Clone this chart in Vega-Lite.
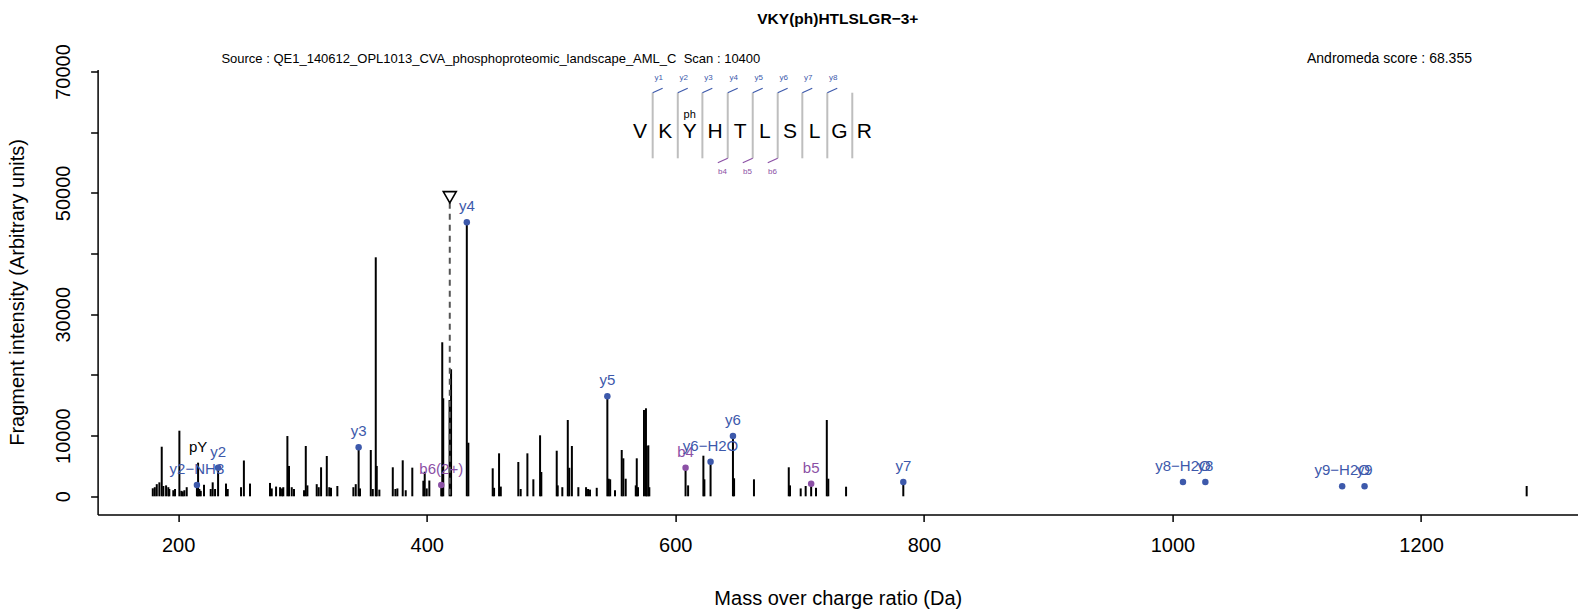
{
  "$schema": "https://vega.github.io/schema/vega-lite/v6.json",
  "autosize": {"type": "none"},
  "width": 1480.4,
  "height": 444.9,
  "padding": {"left": 97.6, "top": 69.5, "right": 0, "bottom": 94.6},
  "background": "white",
  "config": {"view": {"stroke": null}, "font": "Liberation Sans", "axis": {"grid": false}},
  "title": {"text": "VKY(ph)HTLSLGR−3+", "fontSize": 15.5, "fontWeight": "bold", "font": "Liberation Sans", "anchor": "middle", "offset": 16, "color": "black"},
  "datasets": {
    "peaks": [
      {"mz":179.6,"intensity":1320},{"mz":181.2,"intensity":1500},{"mz":182.8,"intensity":2000},{"mz":184.9,"intensity":2300},{"mz":186.8,"intensity":8170},{"mz":188.1,"intensity":1700},{"mz":190.3,"intensity":1800},{"mz":192.1,"intensity":1500},{"mz":192.9,"intensity":1200},{"mz":196.1,"intensity":1000},{"mz":197.5,"intensity":1200},{"mz":201.0,"intensity":10810},{"mz":202.6,"intensity":900},{"mz":203.7,"intensity":800},{"mz":205.0,"intensity":1000},{"mz":206.9,"intensity":1500},{"mz":215.11,"intensity":1860},{"mz":216.04,"intensity":5540},{"mz":217.1,"intensity":1200},{"mz":218.2,"intensity":900},{"mz":220.8,"intensity":1900},{"mz":226.2,"intensity":1200},{"mz":227.8,"intensity":2300},{"mz":229.7,"intensity":1200},{"mz":232.14,"intensity":4720},{"mz":238.5,"intensity":2100},{"mz":239.9,"intensity":1200},{"mz":250.6,"intensity":1500},{"mz":252.9,"intensity":5900},{"mz":257.8,"intensity":2100},{"mz":273.9,"intensity":2200},{"mz":275.3,"intensity":1300},{"mz":278.8,"intensity":1600},{"mz":282.0,"intensity":1500},{"mz":283.6,"intensity":1300},{"mz":284.6,"intensity":1500},{"mz":287.9,"intensity":9930},{"mz":289.2,"intensity":5000},{"mz":291.4,"intensity":1500},{"mz":293.2,"intensity":1200},{"mz":301.3,"intensity":1000},{"mz":302.7,"intensity":8290},{"mz":304.0,"intensity":1800},{"mz":311.5,"intensity":2000},{"mz":313.1,"intensity":1500},{"mz":315.0,"intensity":4780},{"mz":319.6,"intensity":6640},{"mz":321.6,"intensity":1500},{"mz":323.0,"intensity":1400},{"mz":328.1,"intensity":1700},{"mz":341.0,"intensity":1500},{"mz":342.9,"intensity":2000},{"mz":345.22,"intensity":8070},{"mz":346.3,"intensity":1300},{"mz":355.0,"intensity":7630},{"mz":356.6,"intensity":1200},{"mz":359.0,"intensity":39380},{"mz":359.8,"intensity":5000},{"mz":361.9,"intensity":1100},{"mz":372.7,"intensity":4780},{"mz":374.8,"intensity":1200},{"mz":376.4,"intensity":1300},{"mz":380.7,"intensity":5930},{"mz":383.1,"intensity":1000},{"mz":388.4,"intensity":4720},{"mz":397.3,"intensity":2570},{"mz":398.4,"intensity":4050},{"mz":400.0,"intensity":1300},{"mz":402.1,"intensity":2600},{"mz":411.70,"intensity":1860},{"mz":412.5,"intensity":25380},{"mz":413.3,"intensity":16150},{"mz":418.4,"intensity":15870},{"mz":419.6,"intensity":20930},{"mz":432.26,"intensity":45150},{"mz":433.5,"intensity":8830},{"mz":453.1,"intensity":4610},{"mz":454.2,"intensity":1400},{"mz":458.2,"intensity":7080},{"mz":459.6,"intensity":1600},{"mz":473.7,"intensity":5650},{"mz":475.6,"intensity":1200},{"mz":481.0,"intensity":7080},{"mz":485.8,"intensity":2800},{"mz":491.2,"intensity":10050},{"mz":492.2,"intensity":4000},{"mz":504.6,"intensity":7510},{"mz":505.4,"intensity":1800},{"mz":509.1,"intensity":1500},{"mz":513.5,"intensity":12570},{"mz":514.7,"intensity":4700},{"mz":516.8,"intensity":8290},{"mz":522.0,"intensity":1500},{"mz":528.2,"intensity":1500},{"mz":529.8,"intensity":1200},{"mz":531.4,"intensity":1100},{"mz":536.8,"intensity":1400},{"mz":545.34,"intensity":16480},{"mz":546.4,"intensity":2900},{"mz":547.6,"intensity":2800},{"mz":551.5,"intensity":1000},{"mz":556.9,"intensity":7630},{"mz":558.2,"intensity":6260},{"mz":560.1,"intensity":2900},{"mz":568.2,"intensity":1800},{"mz":569.0,"intensity":6260},{"mz":570.0,"intensity":1500},{"mz":574.8,"intensity":14220},{"mz":576.4,"intensity":14500},{"mz":577.0,"intensity":8290},{"mz":578.3,"intensity":8400},{"mz":579.1,"intensity":1500},{"mz":608.26,"intensity":4720},{"mz":610.3,"intensity":1800},{"mz":622.6,"intensity":6690},{"mz":623.4,"intensity":2800},{"mz":628.38,"intensity":5700},{"mz":646.39,"intensity":9930},{"mz":647.3,"intensity":2970},{"mz":663.3,"intensity":2800},{"mz":691.3,"intensity":4780},{"mz":692.3,"intensity":1800},{"mz":700.9,"intensity":1300},{"mz":704.9,"intensity":1700},{"mz":709.31,"intensity":2080},{"mz":713.2,"intensity":1400},{"mz":721.9,"intensity":12570},{"mz":723.1,"intensity":2900},{"mz":737.4,"intensity":1580},{"mz":783.45,"intensity":2360},{"mz":1285.0,"intensity":1700}
    ],
    "ions": [
      {"mz":215.11,"intensity":1860,"label":"y2−NH3","type":"y"},
      {"mz":232.14,"intensity":4720,"label":"y2","type":"y"},
      {"mz":345.22,"intensity":8070,"label":"y3","type":"y"},
      {"mz":411.70,"intensity":1860,"label":"b6(2+)","type":"b"},
      {"mz":432.26,"intensity":45150,"label":"y4","type":"y"},
      {"mz":545.34,"intensity":16480,"label":"y5","type":"y"},
      {"mz":608.26,"intensity":4720,"label":"b4","type":"b"},
      {"mz":628.38,"intensity":5700,"label":"y6−H2O","type":"y"},
      {"mz":646.39,"intensity":9930,"label":"y6","type":"y"},
      {"mz":709.31,"intensity":2080,"label":"b5","type":"b"},
      {"mz":783.45,"intensity":2360,"label":"y7","type":"y"},
      {"mz":1008.47,"intensity":2360,"label":"y8−H2O","type":"y"},
      {"mz":1026.48,"intensity":2360,"label":"y8","type":"y"},
      {"mz":1136.56,"intensity":1650,"label":"y9−H2O","type":"y"},
      {"mz":1154.57,"intensity":1650,"label":"y9","type":"y"},
      {"mz":216.04,"intensity":5540,"label":"pY","type":"other"}
    ],
    "separators": [
      {"mz":581.8,"intensity":55692,"intensity2":66500},{"mz":602.0,"intensity":55692,"intensity2":66500},{"mz":621.8,"intensity":55692,"intensity2":66500},{"mz":642.2,"intensity":55692,"intensity2":66500},{"mz":662.3,"intensity":55692,"intensity2":66500},{"mz":682.4,"intensity":55692,"intensity2":66500},{"mz":702.2,"intensity":55692,"intensity2":66500},{"mz":722.3,"intensity":55692,"intensity2":66500},{"mz":742.4,"intensity":55692,"intensity2":66500}
    ],
    "ladder": [
      {"mz":581.8,"mz2":589.8,"intensity":66500,"intensity2":67226,"type":"y"},
      {"mz":602.0,"mz2":610.0,"intensity":66500,"intensity2":67226,"type":"y"},
      {"mz":621.8,"mz2":629.8,"intensity":66500,"intensity2":67226,"type":"y"},
      {"mz":642.2,"mz2":650.2,"intensity":66500,"intensity2":67226,"type":"y"},
      {"mz":662.3,"mz2":670.3,"intensity":66500,"intensity2":67226,"type":"y"},
      {"mz":682.4,"mz2":690.4,"intensity":66500,"intensity2":67226,"type":"y"},
      {"mz":702.2,"mz2":710.2,"intensity":66500,"intensity2":67226,"type":"y"},
      {"mz":722.3,"mz2":730.3,"intensity":66500,"intensity2":67226,"type":"y"},
      {"mz":642.2,"mz2":634.2,"intensity":55692,"intensity2":54967,"type":"b"},
      {"mz":662.3,"mz2":654.3,"intensity":55692,"intensity2":54967,"type":"b"},
      {"mz":682.4,"mz2":674.4,"intensity":55692,"intensity2":54967,"type":"b"}
    ],
    "ladderLabels": [
      {"mz":586.6,"intensity":68874,"label":"y1","type":"y"},
      {"mz":606.8,"intensity":68874,"label":"y2","type":"y"},
      {"mz":626.6,"intensity":68874,"label":"y3","type":"y"},
      {"mz":647.0,"intensity":68874,"label":"y4","type":"y"},
      {"mz":667.1,"intensity":68874,"label":"y5","type":"y"},
      {"mz":687.2,"intensity":68874,"label":"y6","type":"y"},
      {"mz":707.0,"intensity":68874,"label":"y7","type":"y"},
      {"mz":727.1,"intensity":68874,"label":"y8","type":"y"},
      {"mz":638.0,"intensity":53484,"label":"b4","type":"b"},
      {"mz":658.1,"intensity":53484,"label":"b5","type":"b"},
      {"mz":678.2,"intensity":53484,"label":"b6","type":"b"}
    ],
    "letters": [
      {"mz":571.6,"intensity":60075,"aa":"V"},{"mz":592.0,"intensity":60075,"aa":"K"},{"mz":611.6,"intensity":60075,"aa":"Y"},{"mz":632.0,"intensity":60075,"aa":"H"},{"mz":652.1,"intensity":60075,"aa":"T"},{"mz":672.0,"intensity":60075,"aa":"L"},{"mz":692.3,"intensity":60075,"aa":"S"},{"mz":712.0,"intensity":60075,"aa":"L"},{"mz":732.0,"intensity":60075,"aa":"G"},{"mz":752.1,"intensity":60075,"aa":"R"}
    ]
  },
  "layer": [
    {
      "data": {"name": "peaks"},
      "mark": {"type": "rule", "color": "black", "strokeWidth": 2},
      "encoding": {
        "x": {"field": "mz", "type": "quantitative", "scale": {"domain": [135.2, 1326.3], "nice": false, "zero": false},
          "axis": {"values": [200, 400, 600, 800, 1000, 1200], "format": "d", "title": "Mass over charge ratio (Da)", "titleFontSize": 20, "titleFontWeight": "normal", "titleColor": "black", "titleFont": "Liberation Sans", "titlePadding": 33, "labelFontSize": 20, "labelColor": "black", "labelFont": "Liberation Sans", "labelPadding": 14, "labelFlush": false, "labelOverlap": false, "tickSize": 7, "tickColor": "black", "tickWidth": 1.5, "domainColor": "black", "domainWidth": 1.5, "grid": false}},
        "y": {"field": "intensity", "type": "quantitative", "scale": {"domain": [-2982, 70325], "nice": false, "zero": false},
          "axis": {"values": [0, 10000, 20000, 30000, 40000, 50000, 60000, 70000], "format": "d", "labelExpr": "indexof([20000, 40000, 60000], datum.value) >= 0 ? '' : datum.label", "title": "Fragment intensity (Arbitrary units)", "titleFontSize": 20, "titleFontWeight": "normal", "titleColor": "black", "titleFont": "Liberation Sans", "titlePadding": 26, "labelFontSize": 20, "labelColor": "black", "labelFont": "Liberation Sans", "labelAngle": 270, "labelAlign": "center", "labelBaseline": "middle", "labelPadding": 27, "labelFlush": false, "labelOverlap": false, "tickSize": 7, "tickColor": "black", "tickWidth": 1.5, "domainColor": "black", "domainWidth": 1.5, "grid": false}},
        "y2": {"datum": 0}
      }
    },
    {
      "mark": {"type": "rule", "color": "black", "strokeWidth": 1.5},
      "encoding": {"y": {"datum": 70325, "type": "quantitative", "scale": {"domain": [-2982, 70325], "nice": false, "zero": false}}}
    },
    {
      "data": {"values": [{"mz": 418.55, "intensity": 48370}]},
      "mark": {"type": "rule", "color": "#555555", "strokeWidth": 2, "strokeDash": [6, 5]},
      "encoding": {
        "x": {"field": "mz", "type": "quantitative", "scale": {"domain": [135.2, 1326.3], "nice": false, "zero": false}},
        "y": {"field": "intensity", "type": "quantitative", "scale": {"domain": [-2982, 70325], "nice": false, "zero": false}},
        "y2": {"datum": 0}
      }
    },
    {
      "data": {"values": [{"mz": 418.55, "intensity": 49280}]},
      "mark": {"type": "point", "shape": "triangle-down", "size": 169, "filled": false, "fill": "white", "stroke": "black", "strokeWidth": 1.6, "opacity": 1},
      "encoding": {
        "x": {"field": "mz", "type": "quantitative", "scale": {"domain": [135.2, 1326.3], "nice": false, "zero": false}},
        "y": {"field": "intensity", "type": "quantitative", "scale": {"domain": [-2982, 70325], "nice": false, "zero": false}}
      }
    },
    {
      "data": {"name": "ions"},
      "transform": [{"filter": "datum.type !== 'other'"}],
      "mark": {"type": "point", "filled": true, "size": 42, "opacity": 1},
      "encoding": {
        "x": {"field": "mz", "type": "quantitative", "scale": {"domain": [135.2, 1326.3], "nice": false, "zero": false}},
        "y": {"field": "intensity", "type": "quantitative", "scale": {"domain": [-2982, 70325], "nice": false, "zero": false}},
        "color": {"field": "type", "type": "nominal", "scale": {"domain": ["y", "b", "other"], "range": ["#3D59AB", "#8B50A5", "#000000"]}, "legend": null}
      }
    },
    {
      "data": {"name": "ions"},
      "mark": {"type": "text", "fontSize": 15, "font": "Liberation Sans", "baseline": "alphabetic", "align": "center", "dy": -11},
      "encoding": {
        "x": {"field": "mz", "type": "quantitative", "scale": {"domain": [135.2, 1326.3], "nice": false, "zero": false}},
        "y": {"field": "intensity", "type": "quantitative", "scale": {"domain": [-2982, 70325], "nice": false, "zero": false}},
        "text": {"field": "label"},
        "color": {"field": "type", "type": "nominal", "scale": {"domain": ["y", "b", "other"], "range": ["#3D59AB", "#8B50A5", "#000000"]}, "legend": null}
      }
    },
    {
      "data": {"name": "separators"},
      "mark": {"type": "rule", "color": "#BEBEBE", "strokeWidth": 2},
      "encoding": {
        "x": {"field": "mz", "type": "quantitative", "scale": {"domain": [135.2, 1326.3], "nice": false, "zero": false}},
        "y": {"field": "intensity", "type": "quantitative", "scale": {"domain": [-2982, 70325], "nice": false, "zero": false}},
        "y2": {"field": "intensity2"}
      }
    },
    {
      "data": {"name": "ladder"},
      "mark": {"type": "rule", "strokeWidth": 1.2},
      "encoding": {
        "x": {"field": "mz", "type": "quantitative", "scale": {"domain": [135.2, 1326.3], "nice": false, "zero": false}},
        "x2": {"field": "mz2"},
        "y": {"field": "intensity", "type": "quantitative", "scale": {"domain": [-2982, 70325], "nice": false, "zero": false}},
        "y2": {"field": "intensity2"},
        "color": {"field": "type", "type": "nominal", "scale": {"domain": ["y", "b", "other"], "range": ["#3D59AB", "#8B50A5", "#000000"]}, "legend": null}
      }
    },
    {
      "data": {"name": "ladderLabels"},
      "mark": {"type": "text", "fontSize": 8, "font": "Liberation Sans", "baseline": "middle", "align": "center"},
      "encoding": {
        "x": {"field": "mz", "type": "quantitative", "scale": {"domain": [135.2, 1326.3], "nice": false, "zero": false}},
        "y": {"field": "intensity", "type": "quantitative", "scale": {"domain": [-2982, 70325], "nice": false, "zero": false}},
        "text": {"field": "label"},
        "color": {"field": "type", "type": "nominal", "scale": {"domain": ["y", "b", "other"], "range": ["#3D59AB", "#8B50A5", "#000000"]}, "legend": null}
      }
    },
    {
      "data": {"name": "letters"},
      "mark": {"type": "text", "fontSize": 21, "font": "Liberation Sans", "baseline": "middle", "align": "center", "color": "black"},
      "encoding": {
        "x": {"field": "mz", "type": "quantitative", "scale": {"domain": [135.2, 1326.3], "nice": false, "zero": false}},
        "y": {"field": "intensity", "type": "quantitative", "scale": {"domain": [-2982, 70325], "nice": false, "zero": false}},
        "text": {"field": "aa"}
      }
    },
    {
      "data": {"values": [{"mz": 611.6, "intensity": 62827, "label": "ph"}]},
      "mark": {"type": "text", "fontSize": 11, "font": "Liberation Sans", "baseline": "middle", "align": "center", "color": "black"},
      "encoding": {
        "x": {"field": "mz", "type": "quantitative", "scale": {"domain": [135.2, 1326.3], "nice": false, "zero": false}},
        "y": {"field": "intensity", "type": "quantitative", "scale": {"domain": [-2982, 70325], "nice": false, "zero": false}},
        "text": {"field": "label"}
      }
    },
    {
      "data": {"values": [{"mz": 234.8, "intensity": 71988, "label": "Source : QE1_140612_OPL1013_CVA_phosphoproteomic_landscape_AML_C\u00a0\u00a0Scan : 10400"}]},
      "mark": {"type": "text", "fontSize": 13, "font": "Liberation Sans", "baseline": "middle", "align": "left", "color": "black"},
      "encoding": {
        "x": {"field": "mz", "type": "quantitative", "scale": {"domain": [135.2, 1326.3], "nice": false, "zero": false}},
        "y": {"field": "intensity", "type": "quantitative", "scale": {"domain": [-2982, 70325], "nice": false, "zero": false}},
        "text": {"field": "label"}
      }
    },
    {
      "data": {"values": [{"mz": 1241.0, "intensity": 71988, "label": "Andromeda score : 68.355"}]},
      "mark": {"type": "text", "fontSize": 14, "font": "Liberation Sans", "baseline": "middle", "align": "right", "color": "black"},
      "encoding": {
        "x": {"field": "mz", "type": "quantitative", "scale": {"domain": [135.2, 1326.3], "nice": false, "zero": false}},
        "y": {"field": "intensity", "type": "quantitative", "scale": {"domain": [-2982, 70325], "nice": false, "zero": false}},
        "text": {"field": "label"}
      }
    }
  ]
}
